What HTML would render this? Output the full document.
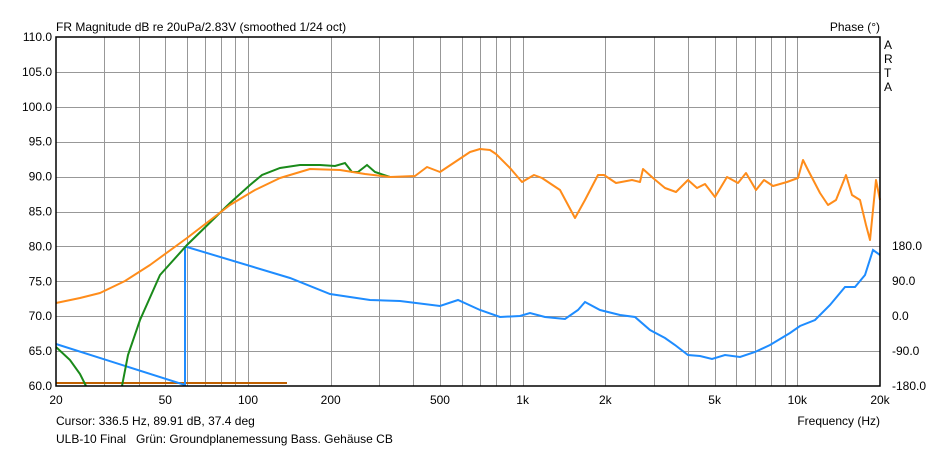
<!DOCTYPE html>
<html><head><meta charset="utf-8"><style>
body{margin:0;background:#fff;}
svg{display:block;font-family:"Liberation Sans",sans-serif;}
</style></head><body>
<svg id="s" width="936" height="450" xmlns="http://www.w3.org/2000/svg">
<rect width="936" height="450" fill="#fff"/>
<g id="grid"></g>
<polyline fill="none" stroke="#c06000" stroke-width="2" points="56,383 287,383"/>
<polyline fill="none" stroke="#1e8cff" stroke-width="2" points="56,344 185,385 185,247 187,247 290,278 330,294 370,300 400,301 440,306 458,300 480,310 500,317 520,316 530,313 545,317 565,319 578,310 585,302 600,310 620,315 635,317 650,330 665,338 675,345 688,355 700,356 712,359 725,355 740,357 755,352 770,345 790,333 800,326 815,320 830,305 845,287 855,287 865,275 873,250 880,255"/>
<polyline fill="none" stroke="#1a8a1a" stroke-width="2" points="56,347 70,360 80,374 86,386"/>
<polyline fill="none" stroke="#1a8a1a" stroke-width="2" points="122,386 128,355 140,320 160,275 187,245 230,203 250,185 262,175 280,168 300,165 320,165 335,166 345,163 352,172 358,172 367,165 375,172 390,177"/>
<polyline fill="none" stroke="#ff8c1a" stroke-width="2" stroke-linejoin="round" points="56,303 80,298 100,293 125,281 150,265 187,238 230,205 255,190 280,178 310,169 340,170 365,174 390,177 415,176 427,167 440,172 461,158 470,152 480,149 490,150 496,154 510,168 522,182 534,175 542,178 560,190 575,218 585,200 598,175 604,175 616,183 632,180 640,182 643,169 653,178 665,188 676,192 688,180 697,188 705,184 715,197 727,177 738,183 746,173 756,190 764,180 773,186 787,182 798,178 803,160 808,170 820,193 828,205 836,200 846,175 852,195 860,200 866,225 870,240 876,180 880,200"/>
<rect x="56" y="37" width="824" height="349" fill="none" stroke="#000" stroke-width="1.5"/>
<g font-size="12" fill="#000">
<text x="56" y="31">FR Magnitude dB re 20uPa/2.83V (smoothed 1/24 oct)</text>
<text x="880" y="31" text-anchor="end">Phase (°)</text>
<text x="884" y="49">A</text><text x="884" y="63">R</text><text x="884" y="77">T</text><text x="884" y="91">A</text>
<text x="880" y="425" text-anchor="end">Frequency (Hz)</text>
<text x="56" y="425">Cursor: 336.5 Hz, 89.91 dB, 37.4 deg</text>
<text x="56" y="443">ULB-10 Final&#160;&#160;&#160;Grün: Groundplanemessung Bass. Gehäuse CB</text>
</g>
<g id="lab" font-size="12" fill="#000"></g>
</svg>
<script>
var ns="http://www.w3.org/2000/svg",g=document.getElementById('grid'),lab=document.getElementById('lab');
function X(f){return 56+274.67*Math.log10(f/20);}
function el(p,t,a,txt){var e=document.createElementNS(ns,t);for(var k in a)e.setAttribute(k,a[k]);if(txt)e.textContent=txt;p.appendChild(e);}
var fs=[];[10,100,1000,10000].forEach(function(d){for(var i=1;i<10;i++){var f=d*i;if(f>20&&f<20000)fs.push(f);}});
fs.forEach(function(f){var x=Math.round(X(f))+0.5;el(g,'line',{x1:x,x2:x,y1:37,y2:386,stroke:'#989898','stroke-width':1});});
for(var i=1;i<10;i++){var y=Math.round(37+i*34.9)+0.5;el(g,'line',{x1:56,x2:880,y1:y,y2:y,stroke:'#989898','stroke-width':1});}
for(var i=0;i<=10;i++){var y=37+i*34.9;el(lab,'text',{x:52,y:y+4,'text-anchor':'end'},(110-5*i).toFixed(1));}
[[180,246],[90,281],[0,316],[-90,351],[-180,386]].forEach(function(p){el(lab,'text',{x:892,y:p[1]+4},p[0].toFixed(1));});
[[20,'20'],[50,'50'],[100,'100'],[200,'200'],[500,'500'],[1000,'1k'],[2000,'2k'],[5000,'5k'],[10000,'10k'],[20000,'20k']].forEach(function(p){el(lab,'text',{x:X(p[0]),y:404,'text-anchor':'middle'},p[1]);});
</script>
</body></html>
